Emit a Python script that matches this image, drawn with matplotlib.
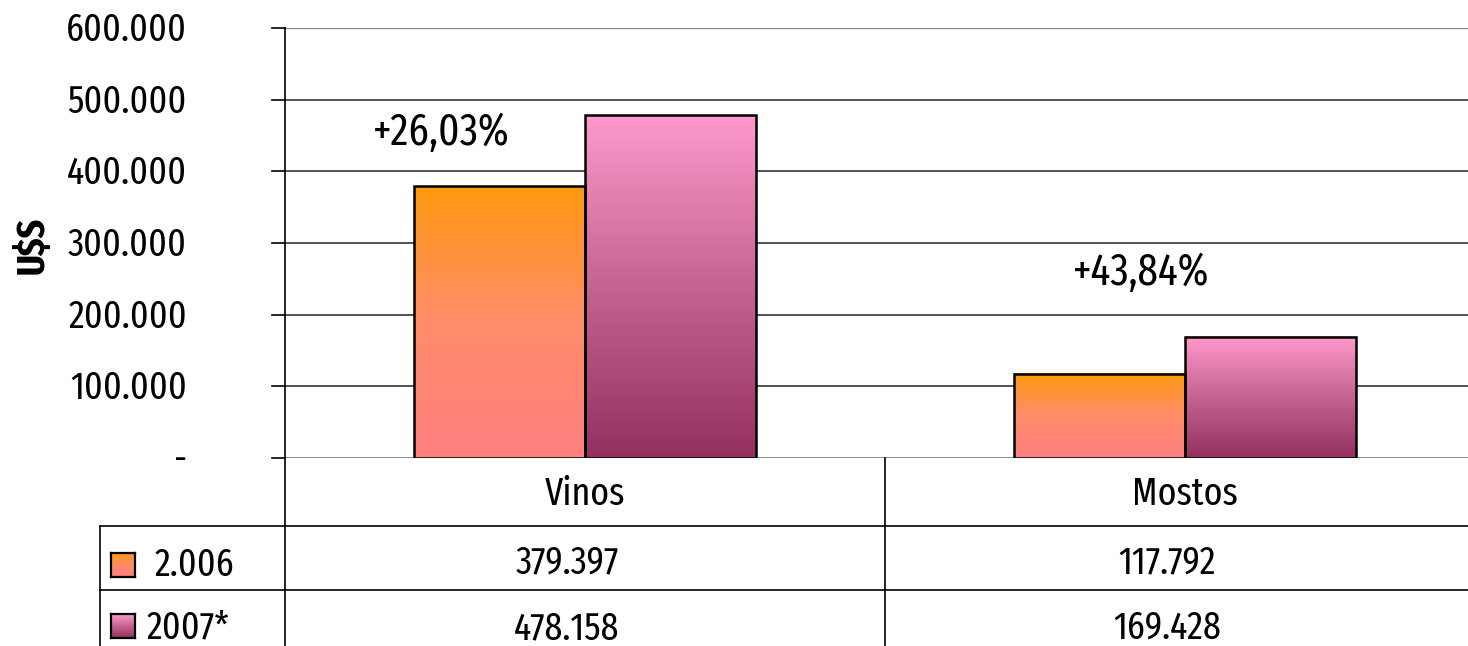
import matplotlib
matplotlib.use("Agg")
import matplotlib.pyplot as plt
import matplotlib.transforms as mtransforms
from matplotlib.colors import LinearSegmentedColormap
import numpy as np

categories = ["Vinos", "Mostos"]
series_names = ["2.006", "2007*"]
values_2006 = [379397, 117792]
values_2007 = [478158, 169428]
value_labels_2006 = ["379.397", "117.792"]
value_labels_2007 = ["478.158", "169.428"]
growth_labels = ["+26,03%", "+43,84%"]
growth_pos = [(-0.24, 437000), (0.927, 241000)]
yticks = [0, 100000, 200000, 300000, 400000, 500000, 600000]
ytick_labels = ["-", "100.000", "200.000", "300.000", "400.000", "500.000", "600.000"]

plt.rcParams['font.family'] = ["Fira Sans Extra Condensed", "DejaVu Sans"]

FS = 28
W, H = 1468, 646
fig = plt.figure(figsize=(W / 100, H / 100), dpi=100)

def fx(px):
    return px / W

def fy(py):
    return 1 - py / H

ax = fig.add_axes([fx(285), fy(458), fx(1485) - fx(285), fy(28) - fy(458)])

for t in yticks:
    col = "#888888" if t in (0, 600000) else "#444444"
    ax.axhline(t, color=col, lw=1.6 if t == 600000 else 1.3, zorder=1)
    ax.plot([-0.5 - 13 / 600, -0.5], [t, t], color="black", lw=1.2, clip_on=False, zorder=1)

cmap06 = LinearSegmentedColormap.from_list("c06", ["#FF8080", "#FF8C6A", "#FF9910"])
cmap07 = LinearSegmentedColormap.from_list("c07", ["#943060", "#C46490", "#FF99CC"])

bw = 0.285
x = np.arange(len(categories))
grad = np.linspace(0, 1, 256).reshape(-1, 1)
for vals, off, cmap in [(values_2006, -bw / 2, cmap06), (values_2007, bw / 2, cmap07)]:
    bars = ax.bar(x + off, vals, width=bw, facecolor="none", edgecolor="black", lw=1.8, zorder=4)
    for b in bars:
        x0, y0 = b.get_x(), b.get_y()
        w, h = b.get_width(), b.get_height()
        ax.imshow(grad, cmap=cmap, origin="lower", extent=[x0, x0 + w, y0, y0 + h],
                  aspect="auto", zorder=3, interpolation="bilinear")
ax.set_xlim(-0.5, 1.5)
ax.set_ylim(0, 600000)

for lab, (gx, gy) in zip(growth_labels, growth_pos):
    ax.text(gx, gy, lab, ha="center", va="baseline", fontsize=32)

for s in ["top", "right", "bottom"]:
    ax.spines[s].set_visible(False)
ax.spines["left"].set_color("black")
ax.spines["left"].set_linewidth(1.2)
ax.set_xticks([])
ax.set_yticks([])

for t, lab in zip(yticks, ytick_labels):
    ax.text(-0.5 - 98 / 600, t - 18000, lab, ha="right", va="baseline", fontsize=FS)

fig.text(fx(33), fy(245), "U$S", rotation=90, ha="center", va="center",
         fontsize=FS, fontweight="bold")

lc = "black"
lw = 1.2
fig.add_artist(plt.Line2D([fx(285), fx(285)], [fy(458), fy(646)], color=lc, lw=lw))
fig.add_artist(plt.Line2D([fx(885), fx(885)], [fy(458), fy(646)], color=lc, lw=lw))
fig.add_artist(plt.Line2D([fx(100), fx(100)], [fy(526), fy(646)], color=lc, lw=lw))
fig.add_artist(plt.Line2D([fx(100), 1], [fy(526), fy(526)], color=lc, lw=lw))
fig.add_artist(plt.Line2D([fx(100), 1], [fy(590), fy(590)], color=lc, lw=lw))

trans = mtransforms.blended_transform_factory(ax.transData, fig.transFigure)
voff = 18 / 600
for i, c in enumerate(categories):
    fig.text(x[i], fy(505), c, transform=trans, ha="center", va="baseline", fontsize=FS)
    fig.text(x[i] - voff, fy(573), value_labels_2006[i], transform=trans, ha="center", va="baseline", fontsize=FS)
    fig.text(x[i] - voff, fy(639), value_labels_2007[i], transform=trans, ha="center", va="baseline", fontsize=FS)

for (ytop, cmap, name, tx, base) in [(553, cmap06, series_names[0], 155, 576),
                                     (614, cmap07, series_names[1], 147, 638)]:
    kax = fig.add_axes([fx(111), fy(ytop + 24), fx(135) - fx(111), 24 / H])
    kax.imshow(grad, cmap=cmap, origin="lower", aspect="auto", extent=[0, 1, 0, 1])
    kax.set_xticks([]); kax.set_yticks([])
    for s in kax.spines.values():
        s.set_linewidth(1.6)
    fig.text(fx(tx), fy(base), name, ha="left", va="baseline", fontsize=FS)

fig.savefig("out.png", dpi=100)
